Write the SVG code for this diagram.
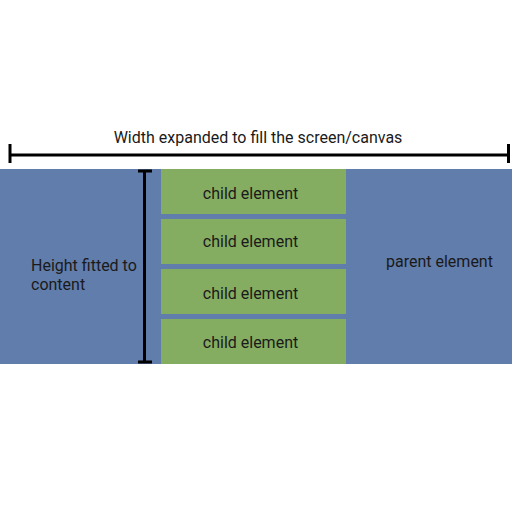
<svg xmlns="http://www.w3.org/2000/svg" width="512" height="512" viewBox="0 0 512 512">
<style>
text{font-family:Roboto,"Liberation Sans",sans-serif;fill:#1a1a1a;font-size:16px}
.child rect{fill:#85ad62}
.child text{text-anchor:middle}
.dim{stroke:#000;stroke-width:3;fill:none}
</style>
<rect width="512" height="512" fill="#fff"/>
<g id="parent">
<rect x="0" y="169" width="512" height="195" fill="#617dab"/>
<text x="386" y="267">parent element</text>
</g>
<g id="child1" class="child"><rect x="161" y="169" width="185" height="45"/><text x="250.5" y="199">child element</text></g>
<g id="child2" class="child"><rect x="161" y="219" width="185" height="45"/><text x="250.5" y="246.5">child element</text></g>
<g id="child3" class="child"><rect x="161" y="269" width="185" height="45"/><text x="250.5" y="298.5">child element</text></g>
<g id="child4" class="child"><rect x="161" y="319" width="185" height="45"/><text x="250.5" y="347.5">child element</text></g>
<g id="connectors">
<path class="dim" d="M10 155H508.5M10 144V163M508.5 144V163"/>
<path class="dim" d="M144.5 171V362M138 171H152M138 362H152"/>
</g>
<g id="labels">
<text x="258" y="143" text-anchor="middle">Width expanded to fill the screen/canvas</text>
<text x="31" y="271">Height fitted to</text>
<text x="31" y="289.5">content</text>
</g>
</svg>
